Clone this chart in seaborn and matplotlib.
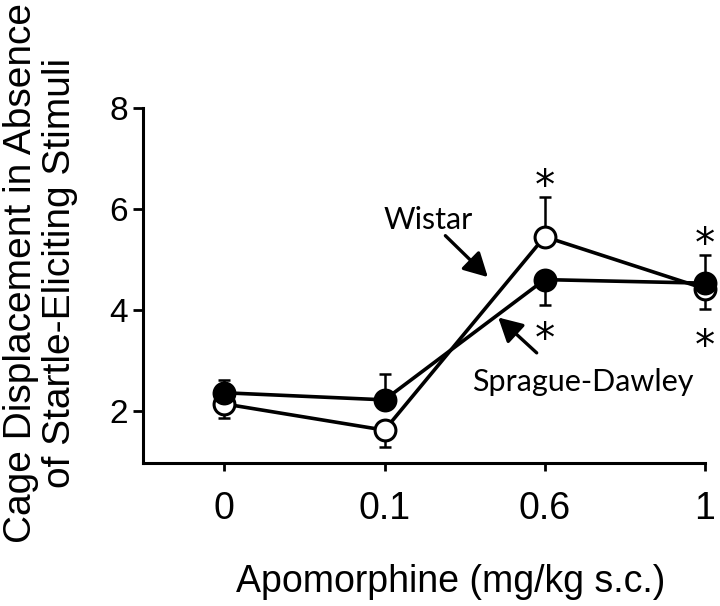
import matplotlib
matplotlib.use("Agg")
import matplotlib.pyplot as plt
import numpy as np
import pandas as pd
import seaborn as sns

doses = ["0", "0.1", "0.6", "1"]

# Sprague-Dawley (filled circles)
sd_mean = [2.36, 2.22, 4.60, 4.53]
sd_err_up = [0.25, 0.51, 0.0, 0.56]
sd_err_down = [0.0, 0.0, 0.50, 0.0]

# Wistar (open circles)
wistar_mean = [2.14, 1.62, 5.45, 4.42]
wistar_err_up = [0.0, 0.0, 0.79, 0.0]
wistar_err_down = [0.28, 0.33, 0.0, 0.40]

# significance marks (dose index, y)
star_x = [2, 3, 3, 2]
star_y = [6.62, 5.47, 3.45, 3.58]

sns.set_style("ticks")
plt.rcParams["font.family"] = ["Liberation Sans", "DejaVu Sans"]
for key in ["text.color", "axes.labelcolor", "xtick.color", "ytick.color", "axes.edgecolor"]:
    plt.rcParams[key] = "black"

fig = plt.figure(figsize=(7.2, 6.06), dpi=100)
ax = fig.add_axes([0.199, 0.236, 0.780, 0.586])

pos = np.arange(len(doses))
df = pd.DataFrame({"dose": pos, "sd": sd_mean, "wistar": wistar_mean})

line_kw = dict(color="black", lw=2.6, marker="o", markersize=15,
               markeredgecolor="black", markeredgewidth=2.2, clip_on=False)
err_kw = dict(fmt="none", ecolor="black", elinewidth=1.8, capsize=4, capthick=1.8, clip_on=False)

ax.errorbar(pos, wistar_mean, yerr=[wistar_err_down, wistar_err_up], zorder=2, **err_kw)
sns.lineplot(data=df, x="dose", y="wistar", ax=ax, markerfacecolor="white", zorder=3, **line_kw)

ax.errorbar(pos, sd_mean, yerr=[sd_err_down, sd_err_up], zorder=4, **err_kw)
sns.lineplot(data=df, x="dose", y="sd", ax=ax, markerfacecolor="black", zorder=5, **line_kw)

for x, y in zip(star_x, star_y):
    # "*" sits high in its em box, so anchor lower than the visual centre
    ax.text(x, y - 0.2, "*", fontsize=29, family="DejaVu Sans", ha="center", va="center")

label_font = ["Lato", "DejaVu Sans"]
arrow = dict(arrowstyle="-|>,head_length=0.48,head_width=0.26", lw=2.4, color="black",
             mutation_scale=30, shrinkA=0, shrinkB=0)
ax.text(1.27, 5.78, "Wistar", fontsize=22, family=label_font, ha="center", va="center")
ax.annotate("", xy=(1.645, 4.65), xytext=(1.38, 5.47), arrowprops=arrow)
ax.text(2.24, 2.57, "Sprague-Dawley", fontsize=22, family=label_font, ha="center", va="center")
ax.annotate("", xy=(1.71, 3.85), xytext=(1.95, 3.15), arrowprops=arrow)

ax.set_xlim(-0.506, 3)
ax.set_ylim(0.97, 8)
ax.set_xticks(pos)
ax.set_xticklabels(doses)
ax.set_yticks([2, 4, 6, 8])
ax.tick_params(axis="x", labelsize=27, length=6, width=2, pad=14)
ax.tick_params(axis="y", labelsize=24, length=7, width=2, pad=4)
for side in ["left", "bottom"]:
    ax.spines[side].set_linewidth(2.2)
sns.despine(ax=ax)

ax.set_xlabel("Apomorphine (mg/kg s.c.)", fontsize=27)
ax.xaxis.set_label_coords(0.548, -0.285)
ax.set_ylabel("Cage Displacement in Absence\nof Startle-Eliciting Stimuli",
              fontsize=28, linespacing=1.08)
ax.yaxis.set_label_coords(-0.117, 0.535)

fig.savefig("out.png", dpi=100)
